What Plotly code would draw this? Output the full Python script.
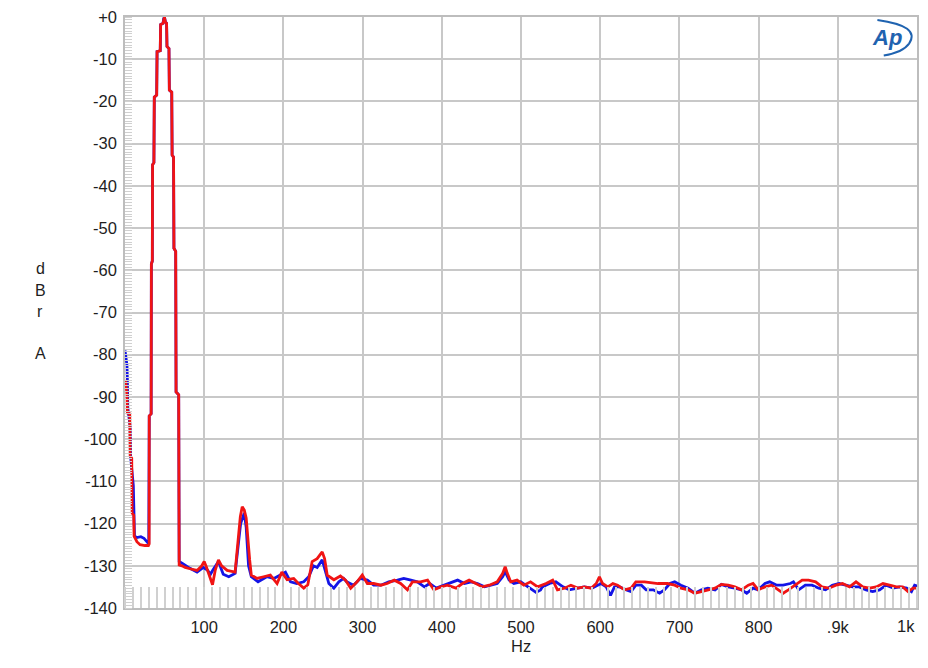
import plotly.graph_objects as go

# ---------------- data (Hz, dBrA) ----------------
red_hz = [0, 1, 2.5, 3.0, 6.0, 6.5, 8.5, 9.0, 11, 11.5, 15, 19, 25, 29.5, 30.5,
          30.6, 33.0, 33.3, 34.5, 34.8, 36.5, 37.0, 40.0, 40.5, 44.5, 45.0, 48.0, 48.8, 49.8,
          50.6, 51.0, 52.5, 53.0, 55.5, 56.0, 59.0, 59.5, 61.3, 61.8, 64.0, 64.5, 67.8, 68.4,
          72, 76, 82, 91, 97, 100, 103, 107, 110.5, 114, 118, 122, 129, 139,
          142.6, 145.6, 148, 150.6, 153, 154.8, 157.4, 159.5, 166.7, 175, 183.5, 192, 198,
          204.7, 213, 219, 225.7, 230.8, 236.3, 242.6, 249, 252, 255.3, 263.7, 272,
          278.5, 285, 293, 299.6, 306, 314, 323, 331, 340, 348, 356.6, 363, 373, 382, 390,
          398.7, 407, 418, 426, 434.5, 443, 451, 460, 470, 476.8, 480, 482.7, 487, 495,
          503.6, 512, 521, 531.6, 540, 546, 554.9, 563, 571.7, 580, 588.6, 595, 599, 603,
          609.7, 616, 622, 630.6, 639, 645, 656, 673, 685, 694, 702, 711, 719.4, 727.8,
          736, 745, 753, 761.6, 770, 778.5, 787, 793, 799.6, 808, 816.5, 825, 831, 837.6,
          846, 855, 863, 872, 880, 889, 897.6, 906, 914.8, 923, 931.6, 940, 948.5, 957,
          965.4, 974, 982, 988.6, 995, 1001]
red_db = [-86.0, -86.5, -89.5, -93.8, -94.0, -104.0, -104.5, -117.5, -118.0, -123.0, -124.3, -125.0, -125.2, -125.2, -124.8,
          -94.5, -94.0, -58.5, -57.8, -35.0, -34.5, -19.0, -18.5, -8.2, -8.0, -1.8, -1.5, -0.4, 0.0,
          -0.8, -1.2, -1.5, -7.0, -7.5, -17.3, -17.8, -32.7, -33.2, -54.8, -55.5, -88.8, -89.5, -129.8,
          -130.0, -130.4, -130.7, -131.1, -130.0, -129.0, -130.4, -132.6, -134.5, -131.0, -128.6, -130.0, -131.1, -131.5,
          -124.7, -118.4, -116.0, -116.8, -118.7, -123.1, -128.6, -132.2, -133.0, -132.6, -132.2, -134.2, -131.5,
          -133.3, -133.0, -134.2, -135.3, -134.5, -129.0, -128.3, -126.7, -128.3, -132.2, -133.3, -132.4,
          -133.4, -135.3, -133.8, -132.2, -134.2, -134.2, -134.6, -134.2, -133.4, -134.2, -135.7, -133.8, -133.8, -133.4, -135.7,
          -135.0, -134.6, -135.3, -134.2, -133.4, -134.2, -135.0, -134.6, -133.8, -131.8, -130.2, -131.8, -133.8, -133.4,
          -134.6, -133.8, -135.0, -134.2, -133.4, -135.7, -135.3, -134.6, -135.3, -135.0, -135.3, -134.2, -132.6, -134.2,
          -135.0, -134.2, -134.6, -135.7, -135.3, -133.8, -133.8, -134.2, -134.2, -134.6, -135.3, -135.7, -136.5, -136.1,
          -135.7, -135.3, -134.4, -134.6, -135.0, -135.7, -134.6, -134.2, -135.7, -135.0, -134.6, -135.7, -136.5, -135.7,
          -134.6, -133.4, -133.4, -133.8, -135.0, -135.3, -134.6, -134.2, -135.0, -133.8, -135.0, -135.3, -135.0, -134.2,
          -134.6, -135.0, -135.0, -136.1, -135.3, -135.3]

blue_hz = [0, 1.0, 2.5, 3.0, 3.5, 6.5, 7.0, 10.5, 11.0, 12.0, 15, 20, 24, 27, 30.0,
           30.6, 33.0, 33.3, 34.5, 34.8, 36.5, 37.0, 40.0, 40.5, 44.5, 45.0, 48.0, 48.8, 49.8,
           50.6, 51.0, 52.5, 53.0, 55.5, 56.0, 59.0, 59.5, 61.3, 61.8, 64.0, 64.5, 67.8, 68.4,
           74, 82, 91, 99, 104, 108, 111, 118, 124, 131, 139,
           143, 146, 150.6, 153, 156, 159.5, 168, 179, 188, 196, 202.6, 209, 217, 225.7,
           232, 238, 242.6, 249, 253, 257.4, 263.7, 270, 276, 280, 288.6, 297, 306, 314,
           323, 333, 344, 352, 361, 369, 378, 384.6, 393, 403, 411.7, 420, 428.7, 437, 445,
           454, 462, 470, 476.8, 480, 485, 491, 499.6, 506, 514, 519, 524.7, 527, 536, 544,
           553, 561, 571.7, 580, 590, 601, 607.6, 613, 618, 624.5, 633, 639, 645, 652, 658,
           667, 675, 681, 688, 694, 702, 711, 719.4, 727.8, 736, 745, 753, 761.6, 770,
           778.5, 785, 793, 799.6, 808, 814, 823, 831, 840, 844, 850.6, 859, 867.5, 876,
           884.6, 893, 901.6, 910, 918.6, 927, 935.7, 944, 952.7, 961, 970, 978, 987, 993,
           997, 1003]
blue_db = [-79.0, -80.5, -82.5, -86.0, -92.5, -97.0, -104.0, -111.0, -117.0, -123.0, -123.3, -123.1, -123.5, -124.3, -124.8,
           -94.5, -94.0, -58.5, -57.8, -35.0, -34.5, -19.0, -18.5, -8.2, -8.0, -1.8, -1.5, -0.4, 0.0,
           -0.8, -1.2, -1.5, -7.0, -7.5, -17.3, -17.8, -32.7, -33.2, -54.8, -55.5, -88.8, -89.5, -129.0,
           -129.6, -130.6, -131.5, -130.4, -131.0, -132.0, -131.0, -129.0, -132.0, -132.6, -131.8,
           -125.8, -120.0, -117.5, -120.9, -130.0, -132.6, -133.8, -132.6, -133.0, -132.2, -131.5, -133.8, -134.2, -133.8,
           -132.6, -130.0, -130.4, -128.6, -131.0, -134.2, -135.3, -133.8, -133.0, -133.8, -134.6, -133.0, -133.4, -134.6,
           -134.6, -133.8, -133.4, -133.0, -133.4, -133.8, -135.0, -134.2, -135.3, -134.6, -133.8, -133.4, -134.2, -133.8, -134.2,
           -135.0, -134.6, -134.2, -132.6, -131.4, -133.4, -134.2, -133.8, -134.6, -135.7, -136.3, -135.7, -135.0, -134.2, -133.8,
           -135.0, -135.7, -135.3, -135.0, -135.3, -134.2, -135.0, -137.0, -135.0, -135.0, -135.7, -136.1, -134.6, -134.6, -135.7,
           -135.7, -136.5, -135.7, -134.2, -133.8, -134.6, -135.3, -136.5, -135.7, -135.3, -135.7, -134.4, -135.0, -135.3,
           -135.7, -136.5, -135.3, -135.7, -134.2, -133.8, -134.6, -134.6, -134.2, -133.8, -135.7, -134.6, -134.6, -135.3,
           -135.7, -134.6, -134.2, -134.6, -135.0, -135.0, -135.7, -136.1, -135.7, -134.6, -135.3, -135.0, -135.3, -136.1,
           -134.6, -135.0]

x_tickvals = [100, 200, 300, 400, 500, 600, 700, 800, 900, 1000]
x_ticktext = ["100", "200", "300", "400", "500", "600", "700", "800", ".9k", ""]
y_tickvals = [0, -10, -20, -30, -40, -50, -60, -70, -80, -90, -100, -110, -120, -130, -140]
y_ticktext = ["+0", "-10", "-20", "-30", "-40", "-50", "-60", "-70", "-80", "-90",
              "-100", "-110", "-120", "-130", "-140"]

FONT = "Liberation Sans, Arial, sans-serif"
GRID = "#c8c8c8"
TXT = "#1e1e1e"

fig = go.Figure()
fig.add_trace(go.Scatter(x=blue_hz, y=blue_db, mode="lines",
                         line=dict(color="#1414e6", width=2.8), showlegend=False))
fig.add_trace(go.Scatter(x=red_hz, y=red_db, mode="lines",
                         line=dict(color="#f01414", width=2.8), showlegend=False))

# The page body has an 8 px margin, so the figure is 8 px smaller than the window
fig.update_layout(
    width=920, height=660,
    margin=dict(l=117, r=11, t=9, b=60),
    paper_bgcolor="white", plot_bgcolor="white",
    font=dict(family=FONT, size=16.5, color=TXT),
    xaxis=dict(range=[0, 1000], tickmode="array", tickvals=x_tickvals, ticktext=x_ticktext,
               automargin=False, ticklabeloverflow="allow",
               showgrid=True, gridcolor=GRID, gridwidth=1.5, zeroline=False,
               showline=True, linecolor="#bdbdbd", linewidth=1.5, mirror=True,
               ticks="", ticklabelstandoff=3,
               minor=dict(dtick=10, tick0=0, ticks="inside", ticklen=21,
                          tickcolor="#d0d0d0", tickwidth=1.5, showgrid=False)),
    yaxis=dict(range=[-140, 0], tickmode="array", tickvals=y_tickvals, ticktext=y_ticktext,
               automargin=False, ticklabeloverflow="allow",
               showgrid=True, gridcolor=GRID, gridwidth=1.5, zeroline=False,
               showline=True, linecolor="#bdbdbd", linewidth=1.5, mirror=True,
               ticks="", ticklabelstandoff=3,
               minor=dict(dtick=0.6667, tick0=0, ticks="inside", ticklen=7,
                          tickcolor="#d0d0d0", tickwidth=1, showgrid=False)),
)

# y-axis title (stacked letters)
for letter, yp in [("d", 0.575), ("B", 0.538), ("r", 0.501), ("A", 0.430)]:
    fig.add_annotation(text=letter, xref="paper", yref="paper", x=-0.107, y=yp,
                       showarrow=False, xanchor="center", yanchor="middle",
                       font=dict(family=FONT, size=16, color=TXT))

# x-axis title
fig.add_annotation(text="Hz", xref="paper", yref="paper", x=0.5, y=-0.064,
                   showarrow=False, xanchor="center", yanchor="middle",
                   font=dict(family=FONT, size=16.5, color=TXT))
# last x label, right aligned at the edge
fig.add_annotation(text="1k", xref="x", yref="paper", x=1000, y=-0.031,
                   showarrow=False, xanchor="right", yanchor="middle",
                   font=dict(family=FONT, size=16.5, color=TXT))

# Ap logo
fig.add_annotation(text="<b><i>Ap</i></b>", xref="paper", yref="paper", x=0.962, y=0.966,
                   showarrow=False, xanchor="center", yanchor="middle",
                   font=dict(family=FONT, size=22, color="#1f63b0"))
fig.add_shape(type="path", xref="paper", yref="paper",
              path="M 0.950,0.995 Q 1.005,0.985 0.990,0.955 Q 0.982,0.940 0.958,0.935",
              line=dict(color="#1f63b0", width=2))

fig.write_html("out.html")
